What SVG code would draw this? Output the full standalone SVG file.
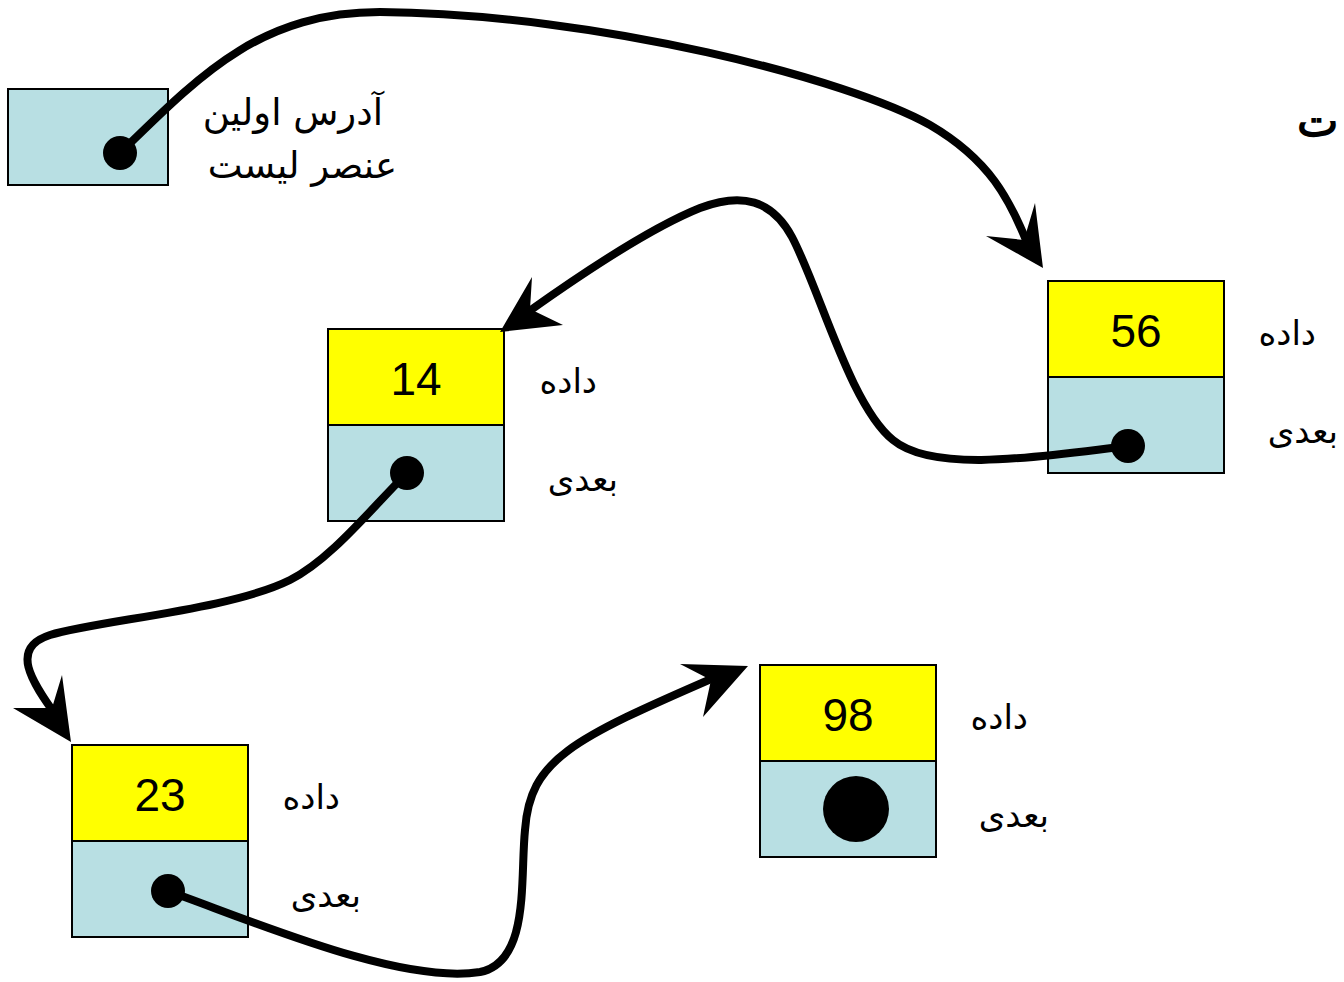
<svg xmlns="http://www.w3.org/2000/svg" width="1344" height="982" viewBox="0 0 1344 982">
<style>
.data{fill:#ffff00;stroke:#000;stroke-width:2}
.ptr{fill:#b8dfe3;stroke:#000;stroke-width:2}
.num{font-family:"Liberation Sans",Arial,sans-serif;font-size:46px;fill:#000;text-anchor:middle}
.lbl{font-family:"DejaVu Sans","Noto Sans",sans-serif;font-size:34px;fill:#000;text-anchor:end}
.head{font-family:"DejaVu Sans","Noto Sans",sans-serif;font-size:37px;fill:#000;text-anchor:end}
.wire{fill:none;stroke:#000;stroke-width:8;stroke-linecap:round}
.ah{fill:#000}
</style>
<rect width="1344" height="982" fill="#fff"/>
<g id="head">
<rect class="ptr" x="8" y="89" width="160" height="96"/>
<circle cx="120" cy="153" r="17"/>
<text class="head" x="383" y="125">آدرس اولین</text>
<text class="head" x="397" y="178">عنصر لیست</text>
</g>
<g id="node56">
<rect class="data" x="1048" y="281" width="176" height="96"/>
<rect class="ptr" x="1048" y="377" width="176" height="96"/>
<text class="num" x="1136" y="347">56</text>
<circle cx="1128" cy="446" r="17"/>
<text class="lbl" x="1316" y="345">داده</text>
<text class="lbl" x="1338" y="443">بعدی</text>
</g>
<g id="node14">
<rect class="data" x="328" y="329" width="176" height="96"/>
<rect class="ptr" x="328" y="425" width="176" height="96"/>
<text class="num" x="416" y="395">14</text>
<circle cx="407" cy="473" r="17"/>
<text class="lbl" x="597" y="393">داده</text>
<text class="lbl" x="618" y="491">بعدی</text>
</g>
<g id="node23">
<rect class="data" x="72" y="745" width="176" height="96"/>
<rect class="ptr" x="72" y="841" width="176" height="96"/>
<text class="num" x="160" y="811">23</text>
<circle cx="168" cy="891" r="17"/>
<text class="lbl" x="340" y="809">داده</text>
<text class="lbl" x="361" y="907">بعدی</text>
</g>
<g id="node98">
<rect class="data" x="760" y="665" width="176" height="96"/>
<rect class="ptr" x="760" y="761" width="176" height="96"/>
<text class="num" x="848" y="731">98</text>
<circle cx="856" cy="809" r="33"/>
<text class="lbl" x="1028" y="729">داده</text>
<text class="lbl" x="1049" y="827">بعدی</text>
</g>
<g id="title">
<text x="1297" y="136" font-family="DejaVu Serif,serif" font-weight="bold" font-size="44">ت</text>
</g>
<g id="connectors">
<path class="wire" d="M120,153 C200,75 260,12 380,12 C600,14 850,80 930,125 C990,160 1010,200 1028,245"/>
<polygon class="ah" points="1043,268 986,236 1024,240 1035,203"/>
<path class="wire" d="M1128,446 C1050,455 935,475 893,440 C850,405 820,290 792,237 C772,200 742,192 700,208 C650,228 580,275 528,312"/>
<polygon class="ah" points="500,332 532,277 530,309 563,325"/>
<path class="wire" d="M407,473 C370,510 330,560 290,580 C230,610 100,620 50,635 C10,648 30,680 58,718"/>
<polygon class="ah" points="71,742 13,708 52,708 62,675"/>
<path class="wire" d="M168,891 C250,920 400,985 480,972 C530,962 520,880 525,830 C530,760 570,740 718,676"/>
<polygon class="ah" points="748,666 680,664 711,680 703,717"/>
</g>
</svg>
